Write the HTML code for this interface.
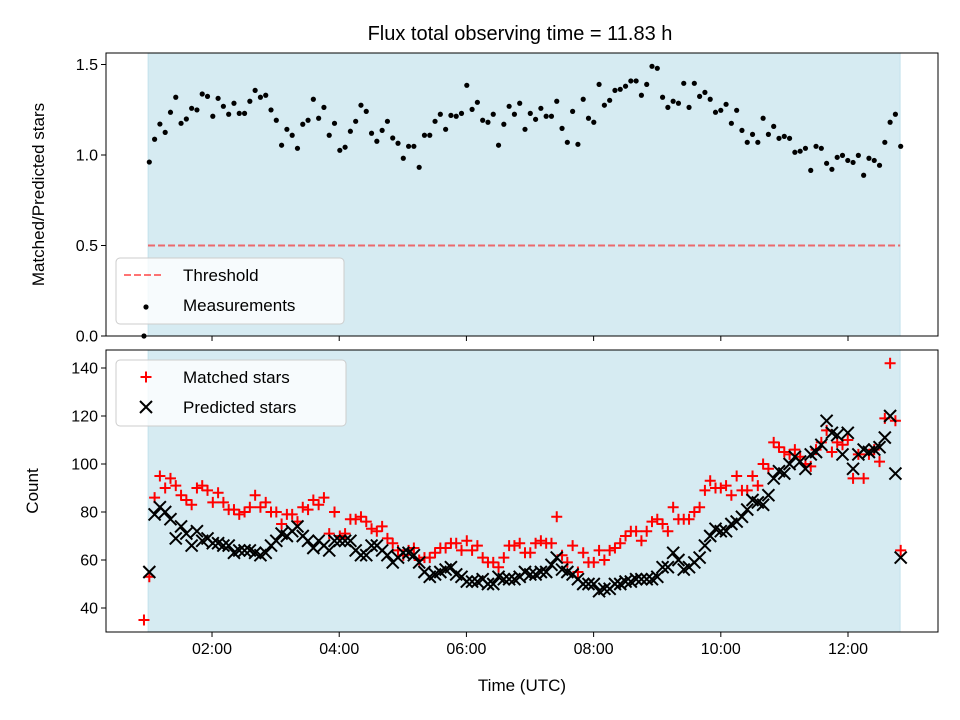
<!DOCTYPE html>
<html><head><meta charset="utf-8"><style>
body{margin:0;background:#fff;}
svg{display:block;font-family:"Liberation Sans","DejaVu Sans",sans-serif;}
</style></head><body>
<svg id="chart" width="960" height="720" viewBox="0 0 960 720" xmlns="http://www.w3.org/2000/svg"></svg>
<script>
const ratioValues=[0,0.961,1.087,1.171,1.125,1.236,1.319,1.175,1.199,1.258,1.249,1.337,1.324,1.214,1.313,1.269,1.225,1.286,1.230,1.230,1.297,1.357,1.319,1.330,1.249,1.192,1.054,1.142,1.109,1.037,1.170,1.192,1.308,1.203,1.263,1.109,1.175,1.026,1.043,1.131,1.186,1.275,1.241,1.120,1.076,1.136,1.186,1.094,1.065,0.982,1.048,1.048,0.932,1.109,1.109,1.186,1.225,1.142,1.219,1.214,1.230,1.385,1.252,1.291,1.192,1.181,1.225,1.054,1.170,1.269,1.225,1.286,1.142,1.230,1.197,1.258,
1.214,1.214,1.297,1.147,1.070,1.241,1.059,1.308,1.203,1.181,1.390,1.275,1.302,1.357,1.363,1.380,1.409,1.409,1.330,1.390,1.490,1.479,1.319,1.263,1.297,1.286,1.396,1.263,1.396,1.324,1.346,1.308,1.236,1.247,1.280,1.175,1.247,1.136,1.070,1.114,1.070,1.203,1.114,1.158,1.092,1.103,1.092,1.015,1.021,1.037,0.915,1.048,1.037,0.954,0.921,0.987,0.998,0.970,0.959,0.998,0.888,0.982,0.970,0.943,1.070,1.181,1.225,1.048];
const matchedValues=[35,53,86,95,90,94,91,87,85,83,90,91,89,84,88,84,81,81,79,80,82,87,82,84,80,80,75,79,79,76,82,81,85,83,86,71,80,70,71,77,77,78,76,73,72,74,69,67,64,62,64,65,60,61,61,63,65,65,67,67,64,68,64,66,61,59,59,57,61,66,66,67,63,63,67,68,67,67,78,62,59,66,55,63,59,59,64,60,64,65,67,70,72,72,68,72,76,77,75,72,82,77,77,77,80,82,89,93,90,90,91,87,95,89,89,95,91,100,98,109,107,105,104,106,103,100,99,106,109,114,105,109,108,110,94,104,94,104,106,101,119,142,118,64];
const predictedValues=[null,55,79,82,80,77,69,74,71,66,72,68,69,67,67,66,66,63,64,64,64,63,62,63,66,68,71,70,72,74,70,68,65,68,66,64,68,68,68,68,64,62,62,66,66,64,62,59,61,63,63,62,59,55,53,54,55,56,57,54,53,51,51,51,52,50,50,53,52,52,52,53,55,54,54,55,55,58,61,56,55,54,52,50,50,50,47,48,48,50,50,51,51,52,52,52,52,53,57,57,63,60,56,57,59,61,66,70,73,72,72,75,76,78,81,85,84,83,87,94,97,96,100,103,101,98,104,105,108,118,113,112,104,113,98,104,106,105,106,107,111,120,96,61];
const firstHour=0.93, startHour=1.014, stepHour=0.0832;
const xTicks=[2,4,6,8,10,12];
const xTickLabels=["02:00","04:00","06:00","08:00","10:00","12:00"];
const ratioTicks=[0,0.5,1.0,1.5];
const ratioTickLabels=["0.0","0.5","1.0","1.5"];
const countTicks=[40,60,80,100,120,140];
const threshold=0.5;
const shadeStart=0.994, shadeEnd=12.82;

const NS="http://www.w3.org/2000/svg";
const svg=document.getElementById('chart');
function mk(tag,attrs,parent){const e=document.createElementNS(NS,tag);for(const k in attrs)e.setAttribute(k,attrs[k]);(parent||svg).appendChild(e);return e;}
const L=106,R=938;
const xMin=0.333,xMax=13.415;
const X=t=>L+(t-xMin)/(xMax-xMin)*(R-L);
const T1=53,B1=336,T2=350,B2=632;
const Y1=v=>B1-(v-0)/(1.5635-0)*(B1-T1);
const Y2=v=>B2-(v-30)/(147.5-30)*(B2-T2);
const times=ratioValues.map((_,i)=>i===0?firstHour:startHour+(i-1)*stepHour);

mk('rect',{x:0,y:0,width:960,height:720,fill:'#fff'});
const title=mk('text',{x:520,y:40,'text-anchor':'middle','font-size':'20',fill:'#000'});
title.textContent='Flux total observing time = 11.83 h';



function panel(top,bot,Y,ticks,labels,name,ylabel){
  const g=mk('g',{});
  
  
  const sh=mk('rect',{x:X(shadeStart),y:top,width:X(shadeEnd)-X(shadeStart),height:bot-top,fill:'#add8e6','fill-opacity':0.5,stroke:'#add8e6','stroke-opacity':0.6},g);
  
  
  const ag=mk('g',{},g);
  
  
  ticks.forEach((v,i)=>{const y=Y(v);
    mk('line',{x1:L-5,x2:L,y1:y,y2:y,stroke:'#000','stroke-width':1},ag);
    const t=mk('text',{x:L-8,y:y+5.5,'text-anchor':'end','font-size':'16'},ag);t.textContent=labels[i];
    
    });
  const xg=mk('g',{},g);
  
  
  xTicks.forEach(v=>{mk('line',{x1:X(v),x2:X(v),y1:bot,y2:bot+5,stroke:'#000','stroke-width':1},xg);});
  const yl=mk('text',{x:0,y:0,'text-anchor':'middle','font-size':'17',transform:`translate(${name==='ratio-panel'?44:38},${(top+bot)/2}) rotate(-90)`},g);
  yl.textContent=ylabel;
  
  
  return g;
}
const p1=panel(T1,B1,Y1,ratioTicks,ratioTickLabels,'ratio-panel','Matched/Predicted stars');
const p2=panel(T2,B2,Y2,countTicks,countTicks.map(String),'count-panel','Count');

// threshold
const th=mk('line',{x1:X(shadeStart),x2:X(shadeEnd),y1:Y1(threshold),y2:Y1(threshold),stroke:'#ff0000','stroke-opacity':0.55,'stroke-width':2,'stroke-dasharray':'7,3'},p1);


// ratio points
const rg=mk('g',{},p1);


ratioValues.forEach((v,i)=>{const c=mk('circle',{cx:X(times[i]),cy:Y1(v),r:2.6,fill:'#000'},rg);
  
  });
// counts
const mg=mk('g',{},p2);


const pg=mk('g',{},p2);


predictedValues.forEach((v,i)=>{if(v===null)return;const x=X(times[i]),y=Y2(v),s=6;
  const p=mk('path',{d:`M${x-s},${y-s}L${x+s},${y+s}M${x-s},${y+s}L${x+s},${y-s}`,stroke:'#000','stroke-width':2},pg);
  
  });
matchedValues.forEach((v,i)=>{const x=X(times[i]),y=Y2(v),s=5.5;
  const p=mk('path',{d:`M${x-s},${y}L${x+s},${y}M${x},${y-s}L${x},${y+s}`,stroke:'#ff0000','stroke-width':2},mg);
  
  });
svg.appendChild(pg);

// frames
[[T1,B1],[T2,B2]].forEach(([t,b])=>{const f=mk('rect',{x:L,y:t,width:R-L,height:b-t,fill:'none',stroke:'#000','stroke-width':1});
  
  });
xTicks.forEach((v,i)=>{const t=mk('text',{x:X(v),y:B2+22,'text-anchor':'middle','font-size':'16'});t.textContent=xTickLabels[i];
  
  });
const xl=mk('text',{x:522,y:691,'text-anchor':'middle','font-size':'17'});xl.textContent='Time (UTC)';



// legends
function legend(x,y,w,h,name,items){
  const g=mk('g',{});
  
  
  mk('rect',{x,y,width:w,height:h,rx:4,fill:'#fff','fill-opacity':0.8,stroke:'#ccc'},g);
  items.forEach((it,i)=>{const cy=y+17+i*30;
    const e=mk('g',{},g);
    
    
    it.draw(e,x+26,cy);
    const t=mk('text',{x:x+67,y:cy+6,'font-size':'17'},e);t.textContent=it.label;});
}
legend(116,258,228,66,'ratio-legend',[
 {label:'Threshold',draw:(e,cx,cy)=>mk('line',{x1:cx-18,x2:cx+20,y1:cy,y2:cy,stroke:'#ff0000','stroke-opacity':0.55,'stroke-width':2,'stroke-dasharray':'7,3'},e)},
 {label:'Measurements',draw:(e,cx,cy)=>mk('circle',{cx:cx+4,cy:cy+2,r:2.6,fill:'#000'},e)}]);
legend(116,360,230,66,'count-legend',[
 {label:'Matched stars',draw:(e,cx,cy)=>mk('path',{d:`M${cx-1.5},${cy}h11M${cx+4},${cy-5.5}v11`,stroke:'#ff0000','stroke-width':2},e)},
 {label:'Predicted stars',draw:(e,cx,cy)=>mk('path',{d:`M${cx-2},${cy-6}l12,12M${cx-2},${cy+6}l12,-12`,stroke:'#000','stroke-width':2},e)}]);
</script>
</body></html>
